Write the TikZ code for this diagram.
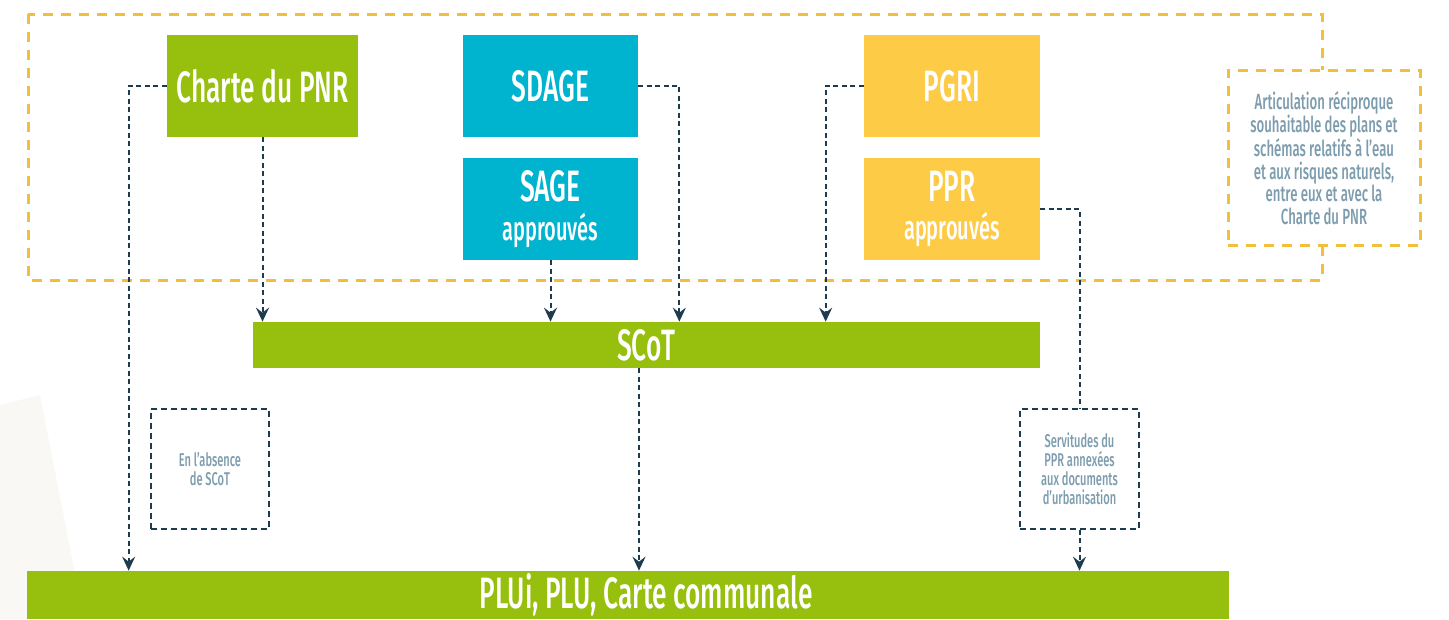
\documentclass[tikz,border=0pt]{standalone}
\usepackage{fontspec}
\setmainfont{Fira Sans Medium}[FakeStretch=0.6]
\usetikzlibrary{arrows.meta,positioning}
\definecolor{pnrgreen}{RGB}{151,191,13}
\definecolor{eaucyan}{RGB}{0,180,207}
\definecolor{risqueyellow}{RGB}{253,203,70}
\definecolor{frameyellow}{RGB}{243,190,60}
\definecolor{linknavy}{RGB}{30,60,80}
\definecolor{notegray}{RGB}{125,157,175}
\definecolor{bgcream}{RGB}{250,248,245}

\begin{document}
\begin{tikzpicture}[x=0.02cm, y=-0.02cm,
  planbox/.style={minimum height=2.04cm, inner sep=0pt, text=white, align=center,
    font=\fontsize{25}{26}\selectfont},
  bar/.style={fill=pnrgreen, inner sep=0pt, text=white, font=\fontsize{25}{26}\selectfont},
  note/.style={draw=linknavy, line width=0.03cm, dash pattern=on 0.12cm off 0.08cm,
    fill=white, inner sep=0pt, text=notegray, align=center},
  link/.style={draw=linknavy, line width=0.04cm, dash pattern=on 0.1cm off 0.07cm,
    -{Stealth[length=2.8mm, width=2.6mm, inset=1mm]}}]
\useasboundingbox (0,0) rectangle (1449,619);
% Faint background shape
\fill[bgcream] (0,405) -- (40,395) -- (84,619) -- (0,619) -- cycle;
% Dashed frame round the water and risk plans
\draw[frameyellow, line width=0.06cm, dash pattern=on 0.2cm off 0.16cm]
  (28,14) rectangle (1322,280);
\node[note, draw=frameyellow, line width=0.06cm, dash pattern=on 0.2cm off 0.16cm,
      minimum width=3.84cm, minimum height=3.52cm,
      font=\fontsize{12.5}{12.8}\selectfont] (artic) at (1324,158)
  {Articulation réciproque\\souhaitable des plans et\\schémas relatifs à l’eau\\et aux risques naturels,\\entre eux et avec la\\Charte du PNR};
% Plans
\node[planbox, fill=pnrgreen, minimum width=3.82cm] (pnr) at (262.5,86) {Charte du PNR};
\node[planbox, fill=eaucyan, minimum width=3.5cm] (sdage) at (550.5,86) {SDAGE};
\node[planbox, fill=eaucyan, minimum width=3.5cm] (sage) at (550.5,209)
  {SAGE\\[-4pt]{\fontsize{19}{19}\selectfont approuvés}};
\node[planbox, fill=risqueyellow, minimum width=3.52cm] (pgri) at (952,86) {PGRI};
\node[planbox, fill=risqueyellow, minimum width=3.52cm] (ppr) at (952,209)
  {PPR\\[-4pt]{\fontsize{19}{19}\selectfont approuvés}};
% Urbanism documents
\node[bar, minimum width=15.74cm, minimum height=0.92cm] (scot) at (646.5,345) {SCoT};
\node[bar, minimum width=24.04cm, minimum height=0.96cm] (plu) at (628,595) {};
\node[bar, fill=none] (plutext) at ([xshift=0.36cm]plu.center) {PLUi, PLU, Carte communale};
% Notes
\node[note, minimum width=2.36cm, minimum height=2.4cm,
      font=\fontsize{10.5}{10.8}\selectfont] (absence) at (210,469)
  {En l’absence\\de SCoT};
\node[note, minimum width=2.38cm, minimum height=2.4cm,
      font=\fontsize{10.5}{10.8}\selectfont] (serv) at (1079.5,469)
  {Servitudes du\\PPR annexées\\aux documents\\d’urbanisation};
% Links
\draw[link] (pnr.west) -- ++(-38,0) coordinate (pnrturn) -- (pnrturn |- plu.north);
\draw[link] (pnr.south) -- (pnr.south |- scot.north);
\draw[link] (sage.south) -- (sage.south |- scot.north);
\draw[link] (sdage.east) -- ++(41,0) coordinate (sdageturn) -- (sdageturn |- scot.north);
\draw[link] (pgri.west) -- ++(-38,0) coordinate (pgriturn) -- (pgriturn |- scot.north);
\draw[link, -] (ppr.east) -| (serv.north);
\draw[link] (serv.south) -- (serv.south |- plu.north);
\draw[link] ([xshift=-0.15cm]scot.south) -- ([xshift=-0.15cm]scot.south |- plu.north);
\end{tikzpicture}
\end{document}
